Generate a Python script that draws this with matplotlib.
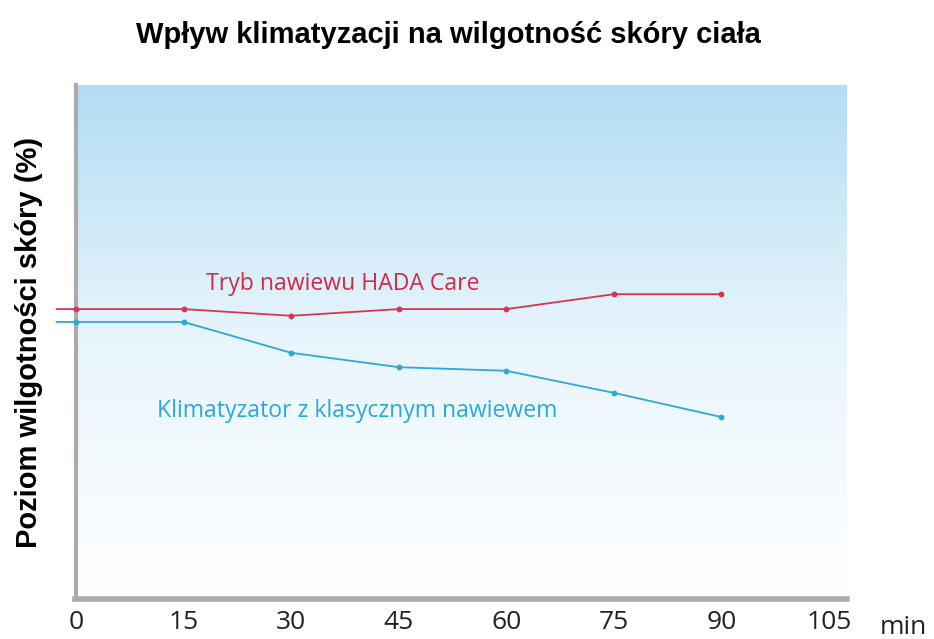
import matplotlib
matplotlib.use("Agg")
import matplotlib.pyplot as plt
import numpy as np
from matplotlib.colors import LinearSegmentedColormap

# Data
minutes = [0, 15, 30, 45, 60, 75, 90]
hada_care = [56.4, 56.4, 55.1, 56.4, 56.4, 59.3, 59.3]
classic = [53.9, 53.9, 47.9, 45.1, 44.4, 40.1, 35.4]
xtick_values = [0, 15, 30, 45, 60, 75, 90, 105]
xtick_labels = ["0", "15", "30", "45", "60", "75", "90", "105"]
title = "Wpływ klimatyzacji na wilgotność skóry ciała"
ylabel = "Poziom wilgotności skóry (%)"
label_hada = "Tryb nawiewu HADA Care"
label_classic = "Klimatyzator z klasycznym nawiewem"

RED = "#d8354f"
RED_TXT = "#d42a45"
CYAN = "#2fa9d6"
CYAN_TXT = "#2aa9dc"
GREY = "#ababab"

fig = plt.figure(figsize=(9.34, 6.39), dpi=100)
ax = fig.add_axes([76/934, 40/639, (847-76)/934, (599-85)/639])
xmin, xmax, ymin, ymax = 0, 107.5, 0, 100
ax.set_xlim(xmin, xmax)
ax.set_ylim(ymin, ymax)

# gradient background
cmap = LinearSegmentedColormap.from_list("bg", ["#ffffff", "#e8f5fc", "#b3ddf4"])
grad = np.linspace(0, 1, 256).reshape(-1, 1)
ax.imshow(grad, extent=[xmin, xmax, ymin, ymax], origin="lower", aspect="auto",
          cmap=cmap, zorder=0)

lead = 2.7  # small lead-in of lines to the left of the axis
for xs, ys, col in [(minutes, hada_care, RED), (minutes, classic, CYAN)]:
    ax.plot([xs[0] - lead] + list(xs), [ys[0]] + list(ys), color=col, lw=1.3,
            marker="o", markersize=3.2, markevery=list(range(1, len(xs) + 1)),
            clip_on=False, zorder=3)

ax.text(18.1, 61.3, label_hada, color=RED_TXT, fontsize=16.6, family="Open Sans",
        va="center", ha="left")
ax.text(11.3, 36.5, label_classic, color=CYAN_TXT, fontsize=16.6, family="Open Sans",
        va="center", ha="left")

for s in ["top", "right"]:
    ax.spines[s].set_visible(False)
ax.spines["left"].set_color(GREY)
ax.spines["left"].set_linewidth(3)
ax.spines["bottom"].set_color(GREY)
ax.spines["bottom"].set_linewidth(4)
ax.spines["bottom"].set_bounds(-0.2, xmax)

ax.set_yticks([])
ax.set_xticks(xtick_values)
ax.set_xticklabels(xtick_labels, family="Open Sans", fontsize=19, color="#222222")
ax.tick_params(axis="x", length=0, pad=8)
ax.text(1.043, -0.055, "min", transform=ax.transAxes, family="Open Sans",
        fontsize=19, color="#222222", va="center", ha="left")

ax.set_ylabel(ylabel, family="Liberation Sans", fontweight="bold", fontsize=21,
              labelpad=24)
fig.text(448/934, 1 - 35/639, title, family="Liberation Sans", fontweight="bold",
         fontsize=21, ha="center", va="center")

fig.savefig("out.png", dpi=100)
